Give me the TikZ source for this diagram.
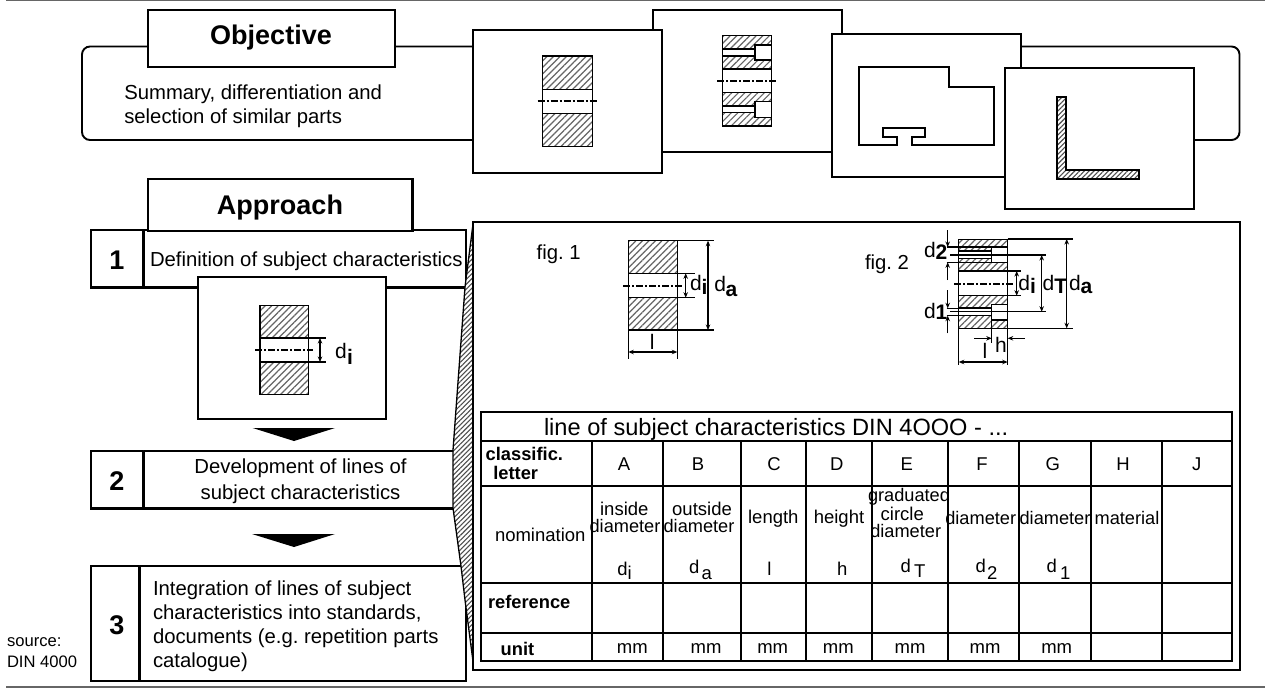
\documentclass[tikz,border=0pt]{standalone}
\usepackage{fontspec}
\setmainfont{Liberation Sans}
\frenchspacing
\usetikzlibrary{arrows.meta,patterns.meta}
\newcounter{tn}
\newcommand{\Tx}[4][]{\stepcounter{tn}\node[txt,#1] (t\arabic{tn}) at (#2,#3) {#4};}
% subscripted symbol: base at x,y ; sub at x2,y2
\newcommand{\Sym}[6][]{\Tx[anchor=base west,#1]{#2}{#3}{d}\Tx[anchor=base west,#1]{#4}{#5}{#6}}
\tikzset{
  txt/.style={inner sep=0pt,outer sep=0pt,font=\fontsize{20.3}{24}\selectfont},
  bb/.style={font=\fontsize{#1}{#1}\selectfont\bfseries},
  sz/.style={font=\fontsize{#1}{#1}\selectfont},
  panel/.style={draw=black,fill=white,line width=1.9pt,line join=miter},
  stepbox/.style={draw=black,fill=white,line width=2.3pt},
  tline/.style={draw=black,line width=1.9pt},
  hat/.style={draw=black,line width=1.3pt,preaction={fill=white},pattern={Lines[angle=45,distance=4.6pt,line width=1.2pt]},pattern color=black!60},
  hatd/.style={draw=black,line width=1pt,preaction={fill=white},pattern={Lines[angle=45,distance=3.4pt,line width=1.1pt]},pattern color=black!70},
  hole/.style={draw=black,fill=white,line width=1.5pt},
  cl/.style={draw=black,line width=1.7pt,dash pattern=on 7pt off 2pt on 2pt off 2pt},
  ext/.style={draw=black,line width=1.5pt},
  dim/.style={draw=black,line width=1.4pt,{Stealth[length=5.5pt,width=4.5pt]}-{Stealth[length=5.5pt,width=4.5pt]}},
  dimr/.style={draw=black,line width=1.4pt,-{Stealth[length=5.5pt,width=4.5pt]}},
  head/.style={fill=black,draw=none},
  rule/.style={draw=black!60,line width=1.4pt}
}
\begin{document}
\begin{tikzpicture}[x=1pt,y=-1pt]
\useasboundingbox (0,0) rectangle (1265,688);
\fill[white] (0,0) rectangle (1265,688);
\draw[rule] (6,0.6) -- (1265,0.6);
\draw[rule] (6,686.8) -- (1265,686.8);

% objective frame
\draw[panel,rounded corners=8pt] (82,46.5) rectangle (1239.5,140);
\draw[stepbox] (148,10) rectangle (395,67);
\Tx[anchor=base,bb=27]{271}{44}{Objective}
\Tx[anchor=base west]{124.3}{99}{Summary, differentiation and}
\Tx[anchor=base west]{124.3}{123}{selection of similar parts}

% part panels
\draw[panel] (653,10) rectangle (841.7,152.3);
\draw[panel] (473,30) rectangle (662,172.7);
\draw[panel] (832.3,34) rectangle (1021,177.3);
\draw[panel] (1005.3,67.7) rectangle (1194,209.3);

% part 1
\draw[hat] (542.3,56) rectangle (592.3,146.7);
\draw[hole] (542.3,89.3) rectangle (592.3,113.3);
\draw[cl] (537.7,101) -- (597.3,101);
% part 2
\draw[hat] (722.3,35.7) rectangle (771.7,126);
\draw[hole] (722.3,69) rectangle (771.7,92.7);
\draw[hole] (722.3,49) rectangle (755,56);
\draw[hole] (755,45) rectangle (771.7,60);
\draw[hole] (722.3,106) rectangle (755,112.7);
\draw[hole] (755,101.7) rectangle (771.7,117.3);
\draw[cl] (717,81) -- (776.7,81);
% part 3
\draw[hole,line width=1.8pt] (859,66.7) -- (949,66.7) -- (949,87.3) -- (994.3,87.3) -- (994.3,145) -- (912.3,145) -- (912.3,136.7) -- (925,136.7) -- (925,127.7) -- (883.3,127.7) -- (883.3,136.7) -- (896.7,136.7) -- (896.7,145) -- (859,145) -- cycle;
% part 4
\draw[hatd,line width=1.8pt] (1056.7,96.7) -- (1065.7,96.7) -- (1065.7,170) -- (1139,170) -- (1139,179) -- (1056.7,179) -- cycle;

% approach
\draw[stepbox] (91,230) rectangle (466,287.5);
\draw[stepbox] (143.5,230) -- (143.5,287.5);
\draw[stepbox] (148,179) rectangle (412.5,231);
\Tx[anchor=base,bb=27]{280}{214}{Approach}
\Tx[anchor=base,bb=27]{117}{269}{1}
\Tx[anchor=base west]{150}{266}{Definition of subject characteristics}

\draw[panel] (198,276.7) rectangle (386,419);
\draw[hat] (260,305.7) rectangle (308.3,394.7);
\draw[hole] (260,338) rectangle (308.3,362);
\draw[cl] (255,350) -- (312.7,350);
\draw[ext] (308.3,338) -- (325.7,338) (308.3,362) -- (325.7,362);
\draw[dim] (320,338) -- (320,362);
\Sym[sz=21]{335}{358.3}{347.2}{364.3}{\textbf{i}}

\fill[head] (252.7,428) -- (335,428) -- (294,441) -- cycle;

\draw[stepbox] (91,450.7) rectangle (466,508.5);
\draw[stepbox] (143.5,450.7) -- (143.5,508.5);
\Tx[anchor=base,bb=27]{117}{490}{2}
\Tx[anchor=base]{300.5}{473}{Development of lines of}
\Tx[anchor=base]{300.5}{499}{subject characteristics}

\fill[head] (252,534) -- (335,534) -- (294,547) -- cycle;

\draw[stepbox] (91,565.7) rectangle (466,680.7);
\draw[stepbox] (139.5,565.7) -- (139.5,680.7);
\Tx[anchor=base,bb=27]{117}{634}{3}
\Tx[anchor=base west]{153}{595}{Integration of lines of subject}
\Tx[anchor=base west]{153}{619}{characteristics into standards,}
\Tx[anchor=base west]{153}{643}{documents (e.g. repetition parts}
\Tx[anchor=base west]{153}{667}{catalogue)}
\Tx[anchor=base west,sz=16.6]{7}{646}{source:}
\Tx[anchor=base west,sz=16.6]{7}{667}{DIN 4000}

% wedge
\draw[hatd,line width=1.3pt] (473,224) -- (465,287) -- (453,450) -- (453,508) -- (461,566) -- (465,600) -- (474,669) -- cycle;

% big panel
\draw[panel] (473,221.7) rectangle (1240,670);

% fig 1
\Tx[anchor=base west]{536.7}{259.3}{fig. 1}
\draw[hat,line width=.9pt] (628.3,240.7) rectangle (677.3,330);
\draw[hole] (628.3,273.3) rectangle (677.3,297.7);
\draw[cl] (623.3,286) -- (681.7,286);
\draw[ext] (677.3,240.7) -- (714.3,240.7) (628.3,330) -- (714.3,330);
\draw[ext] (677.3,273.3) -- (695,273.3) (677.3,297.7) -- (695,297.7);
\draw[ext] (628.3,330) -- (628.3,359.3) (677.3,330) -- (677.3,359.3);
\draw[dim] (708,240.7) -- (708,330);
\draw[dim] (685.7,273.3) -- (685.7,297.7);
\draw[dim] (628.3,352) -- (677.3,352);
\Tx[anchor=base,sz=21]{652.3}{349}{l}
\Sym[sz=21]{690}{290.7}{701.5}{294}{\textbf{i}}
\Sym[sz=21]{714.3}{291.7}{725.5}{296.7}{\textbf{a}}

% fig 2
\Tx[anchor=base west]{865}{269}{fig. 2}
\draw[hat,line width=.9pt] (958.7,239) rectangle (1007.7,328.3);
\draw[hole] (958.7,271) rectangle (1007.7,295.7);
\draw[hole] (958.7,251) rectangle (991.7,258.3);
\draw[hole] (991.7,247) rectangle (1007.7,262.3);
\draw[hole] (958.7,308) rectangle (991.7,315.7);
\draw[hole] (991.7,304.3) rectangle (1007.7,320);
\draw[cl] (954,284) -- (1013.3,284);
\draw[ext] (1007.7,239) -- (1073,239) (1007.7,328.3) -- (1073,328.3);
\draw[ext] (950,255) -- (1045.7,255) (950,311.7) -- (1045.7,311.7);
\draw[ext] (1007.7,271) -- (1020.7,271) (1007.7,295.7) -- (1020.7,295.7);
\draw[ext] (946.7,247) -- (991.7,247) (946.7,262.3) -- (991.7,262.3);
\draw[ext] (946.7,308.3) -- (958.7,308.3) (946.7,315.7) -- (958.7,315.7);
\draw[ext] (958.7,328.3) -- (958.7,365) (1007.7,328.3) -- (1007.7,365);
\draw[ext] (991.7,320) -- (991.7,343);
\draw[dim] (1066.7,239) -- (1066.7,328.3);
\draw[dim] (1041.7,255) -- (1041.7,311.7);
\draw[dim] (1016.7,271) -- (1016.7,295.7);
\draw[dim] (958.7,362) -- (1007.7,362);
\draw[dimr] (947.7,230) -- (947.7,247);
\draw[dimr] (947.7,280) -- (947.7,262.3);
\draw[dimr] (947.7,290) -- (947.7,308.3);
\draw[dimr] (947.7,333.3) -- (947.7,315.7);
\draw[dimr] (974,338.3) -- (991.7,338.3);
\draw[dimr] (1025,338.3) -- (1007.7,338.3);
\Tx[anchor=base,sz=21]{985}{358.3}{l}
\Tx[anchor=base west,sz=21]{995}{352.7}{h}
\Sym[sz=21]{924}{257.7}{935.5}{259.3}{\textbf{2}}
\Sym[sz=21]{924}{318.3}{935.5}{319.5}{\textbf{1}}
\Sym[sz=21]{1018.3}{290}{1030}{293}{\textbf{i}}
\Sym[sz=21]{1042.7}{290}{1054.3}{293.3}{\textbf{T}}
\Sym[sz=21]{1069}{290}{1080.7}{293}{\textbf{a}}

% table
\draw[tline,fill=white] (481,412.3) rectangle (1232,661);
\foreach \yy in {440.7,485.7,582.7,633.3} \draw[tline] (481,\yy) -- (1232,\yy);
\foreach \xx in {592.3,662.7,741.3,806,872.3,948.3,1019.3,1090.7,1162} \draw[tline] (\xx,440.7) -- (\xx,661);
\Tx[anchor=base west,sz=23.6]{544}{435}{line of subject characteristics DIN 4OOO - ...}
\Tx[anchor=base west,bb=18.3]{485.7}{460.7}{classific.}
\Tx[anchor=base west,bb=18.3]{493.3}{479}{letter}
\foreach \xx/\ll in {624/A,698/B,774/C,836.7/D,906.7/E,982/F,1052.7/G,1123/H,1196.7/J}
  {\Tx[anchor=base,sz=18.5]{\xx}{470.7}{\ll}}
\Tx[anchor=base west,sz=18.5]{495}{541.7}{nomination}
\Tx[anchor=base,sz=18.5]{624.3}{515}{inside}
\Tx[anchor=base,sz=18.2]{625}{532.7}{diameter}
\Tx[anchor=base,sz=18.5]{702}{515}{outside}
\Tx[anchor=base,sz=18.2]{699}{532.7}{diameter}
\Tx[anchor=base,sz=18.5]{773.3}{523}{length}
\Tx[anchor=base,sz=18.5]{839}{523}{height}
\Tx[anchor=base,sz=18.2]{909}{501.7}{graduated}
\Tx[anchor=base,sz=18.5]{902.3}{520.7}{circle}
\Tx[anchor=base,sz=18.2]{905.7}{537.7}{diameter}
\Tx[anchor=base,sz=18.2]{980.7}{524.3}{diameter}
\Tx[anchor=base,sz=18.2]{1055}{524.3}{diameter}
\Tx[anchor=base,sz=18.2]{1127}{524.3}{material}
\Sym[sz=18.5]{617.3}{575}{627.5}{579}{i}
\Sym[sz=18.5]{689}{573}{701.7}{579}{a}
\Tx[anchor=base,sz=18.5]{769.3}{575}{l}
\Tx[anchor=base,sz=18.5]{842.3}{575}{h}
\Sym[sz=18.5]{900.7}{572.7}{914}{577.7}{T}
\Sym[sz=18.5]{975.7}{572.7}{987}{579}{2}
\Sym[sz=18.5]{1046.7}{572.7}{1060}{579}{1}
\Tx[anchor=base west,bb=18.3]{488}{608}{reference}
\Tx[anchor=base west,bb=18.3]{500.7}{655.7}{unit}
\foreach \xx in {632.3,706,772.7,838.3,910,985,1056.7}
  {\Tx[anchor=base,sz=18.5]{\xx}{653.3}{mm}}
\end{tikzpicture}
\end{document}
